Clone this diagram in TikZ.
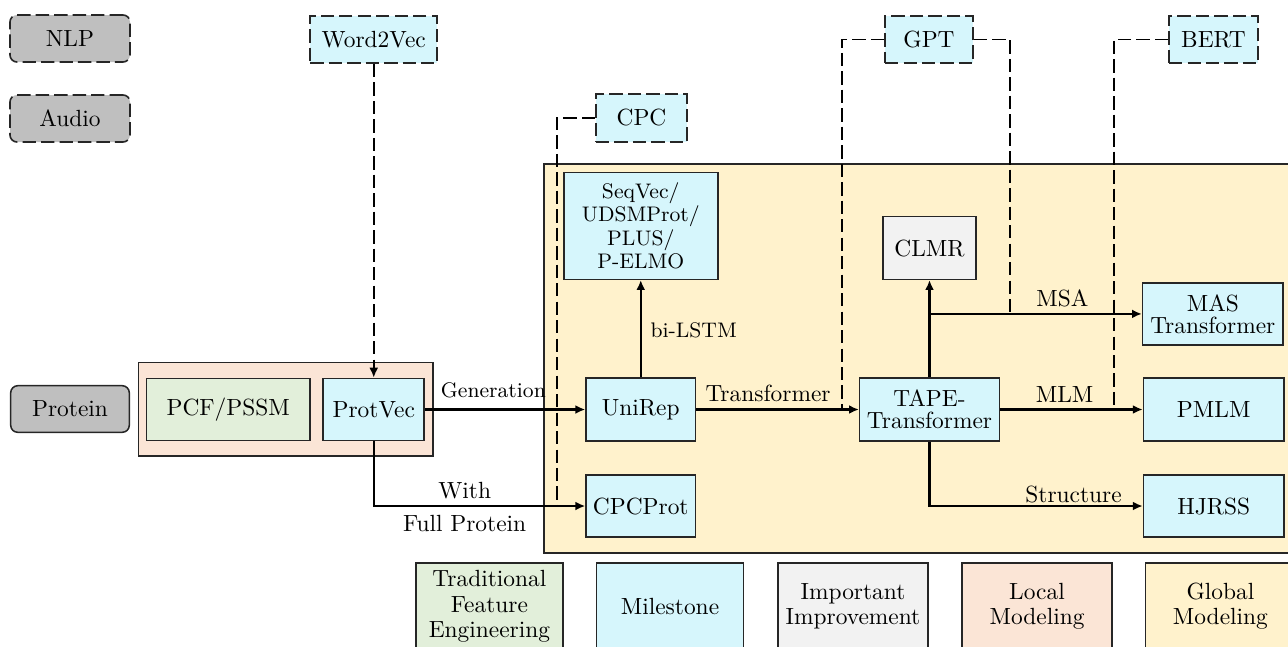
\documentclass[tikz,border=0pt]{standalone}
\usetikzlibrary{arrows.meta}
\definecolor{milestone}{HTML}{D6F6FC}
\definecolor{tradfe}{HTML}{E2EFDA}
\definecolor{improve}{HTML}{F2F2F2}
\definecolor{localm}{HTML}{FBE5D6}
\definecolor{globalm}{HTML}{FFF2CC}
\definecolor{domain}{HTML}{BFBFBF}
\definecolor{edge}{HTML}{262626}
\begin{document}
\begin{tikzpicture}[x=0.4274pt, y=-0.4274pt,
  wh/.style 2 args={minimum width=#1*0.4274pt, minimum height=#2*0.4274pt},
  box/.style={draw=edge, line width=0.65pt, inner sep=0pt, align=center,
              font=\fontsize{10}{9.3}\selectfont},
  mile/.style={box, fill=milestone},
  dashy/.style={dash pattern=on 5.7pt off 2.2pt, line width=0.7pt},
  source/.style={mile, dashy},
  domainbox/.style={box, fill=domain, rounded corners=3pt},
  flow/.style={draw=black, line width=1pt, -{Latex[length=4.2pt,width=3.8pt]}},
  link/.style={draw=black, dashy},
  lbl/.style={inner sep=0pt, font=\normalsize},
  key/.style={box, wh={147}{87}, font=\fontsize{10}{10.8}\selectfont}]

\useasboundingbox (0,0) rectangle (1288,646);
\clip (0,0) rectangle (1288,646);

% background regions
\node[box, fill=globalm, wh={751}{389}] (global) at (919.5,358.5) {};
\node[box, fill=localm, wh={294.6}{93.7}] (local) at (285.9,409.2) {};

% domains
\node[domainbox, dashy, wh={120}{47}] (nlp) at (70,38.5) {NLP};
\node[domainbox, dashy, wh={120}{47}] (audio) at (70,118.5) {Audio};
\node[domainbox, wh={118.6}{46.6}] (protein) at (70,409) {Protein};

% models borrowed from other fields
\node[source, wh={127}{47}] (w2v) at (373.75,39.5) {Word2Vec};
\node[source, wh={91}{48}] (cpc) at (641.5,118) {CPC};
\node[source, wh={88}{47}] (gpt) at (929,39.5) {GPT};
\node[source, wh={89}{47}] (bert) at (1213.5,39.5) {BERT};

% local modeling
\node[box, fill=tradfe, wh={163.6}{62.4}] (pcf) at (228.2,409.5) {PCF/PSSM};
\node[mile, wh={101}{62.4}] (protvec) at (373.75,409.5) {ProtVec};

% global modeling
\node[mile, wh={154}{107}, font=\fontsize{9}{10}\selectfont] (seqvec) at (640.75,225.8)
  {SeqVec/\\UDSMProt/\\PLUS/\\P-ELMO};
\node[mile, wh={109.5}{63}] (unirep) at (640.75,409.5) {UniRep};
\node[mile, wh={109.5}{62}] (cpcprot) at (640.75,506) {CPCProt};
\node[box, fill=improve, wh={93}{62.6}] (clmr) at (929.5,248) {CLMR};
\node[mile, wh={139.7}{63}] (tape) at (929.5,409.5) {TAPE-\\Transformer};
\node[mile, wh={140.4}{62.3}] (mas) at (1212.8,313.9) {MAS\\Transformer};
\node[mile, wh={140.5}{63}] (pmlm) at (1213.7,409.5) {PMLM};
\node[mile, wh={140.5}{62}] (hjrss) at (1213.7,506) {HJRSS};

% influence of borrowed models
\coordinate (cpcend) at (557,506);
\coordinate (gptl) at (842,409.5);
\coordinate (gptr) at (1010,313.9);
\coordinate (bertl) at (1114,409.5);
\draw[link] (cpc.west) -| (cpcend);
\draw[link] (gpt.west) -| (gptl);
\draw[link] (gpt.east) -| (gptr);
\draw[link] (bert.west) -| (bertl);
\draw[link, -{Latex[length=4.2pt,width=3.8pt]}] (w2v.south) -- (protvec.north);

% development paths
\draw[flow] (protvec.east) -- (unirep.west)
  node[lbl, pos=0, anchor=base west, xshift=6.3pt, yshift=5pt, font=\small] {Generation};
\draw[flow] (protvec.south) |- (cpcprot.west)
  node[lbl, pos=0.715, anchor=base, yshift=3.2pt] {With}
  node[lbl, pos=0.715, anchor=base, yshift=-11.1pt] {Full Protein};
\draw[flow] (unirep.north) -- (seqvec.south)
  node[lbl, pos=0.412, anchor=base west, xshift=3.7pt, font=\small] {bi-LSTM};
\draw[flow] (unirep.east) -- (tape.west)
  node[lbl, pos=0.4415, anchor=base, yshift=3.5pt] {Transformer};
\draw[flow] (tape.north) -- (clmr.south);
\coordinate (msafork) at (tape.north |- mas.west);
\draw[flow] (msafork) -- (mas.west)
  node[lbl, pos=0.626, anchor=base, yshift=3.1pt] {MSA};
\draw[flow] (tape.east) -- (pmlm.west)
  node[lbl, pos=0.452, anchor=base, yshift=3.1pt] {MLM};
\draw[flow] (tape.south) |- (hjrss.west)
  node[lbl, pos=0.838, anchor=base, yshift=1.7pt] {Structure};

% legend
\node[key, fill=tradfe] (ktrad) at (489.4,606.5) {Traditional\\Feature\\Engineering};
\node[key, fill=milestone] (kmile) at (670,606.5) {Milestone};
\node[key, fill=improve, wh={150}{87}] (kimp) at (853,606.5) {Important\\Improvement};
\node[key, fill=localm, wh={150}{87}] (kloc) at (1037,606.5) {Local\\Modeling};
\node[key, fill=globalm, wh={150}{87}] (kglob) at (1220.4,606.5) {Global\\Modeling};
\end{tikzpicture}
\end{document}
